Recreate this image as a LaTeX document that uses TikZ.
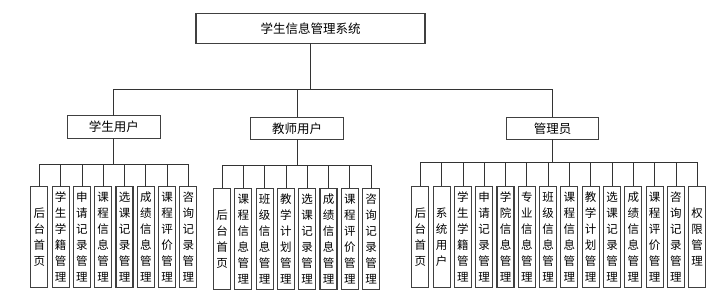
\documentclass[tikz,border=0pt]{standalone}
\usepackage{fontspec}
\setmainfont{Noto Sans CJK SC}
\usetikzlibrary{positioning}

\begin{document}
\begin{tikzpicture}[
    x=1pt, y=1pt,
    box/.style={draw=black!75, line width=1.1pt, inner sep=0pt, outer sep=0pt, align=center},
    topbox/.style={box, minimum width=229pt, minimum height=29.5pt, font=\fontsize{12.5}{14}\selectfont},
    userbox/.style={box, minimum width=92.5pt, minimum height=22.5pt, font=\fontsize{12.5}{14}\selectfont},
    leafbox/.style={box, minimum width=17pt, minimum height=101pt, font=\fontsize{11.5}{16}\selectfont},
    conn/.style={draw=black!80, line width=0.8pt}
]
\useasboundingbox (0,0) rectangle (712,-304);

\node[topbox] (sys) at (310.5,-28.7) {学生信息管理系统};

\node[userbox] (stu) at (113.8,-127) {学生用户};
\node[userbox] (tea) at (297,-128.5) {教师用户};
\node[userbox] (adm) at (552.5,-128.5) {管理员};

% student leaves
\node[leafbox] (s1) at (39.3,-237.1) {后\\台\\首\\页};
\node[leafbox, right=4.3pt of s1] (s2) {学\\生\\学\\籍\\管\\理};
\node[leafbox, right=4.3pt of s2] (s3) {申\\请\\记\\录\\管\\理};
\node[leafbox, right=4.3pt of s3] (s4) {课\\程\\信\\息\\管\\理};
\node[leafbox, right=4.3pt of s4] (s5) {选\\课\\记\\录\\管\\理};
\node[leafbox, right=4.3pt of s5] (s6) {成\\绩\\信\\息\\管\\理};
\node[leafbox, right=4.3pt of s6] (s7) {课\\程\\评\\价\\管\\理};
\node[leafbox, right=4.3pt of s7] (s8) {咨\\询\\记\\录\\管\\理};

% teacher leaves
\node[leafbox] (t1) at (222,-238.8) {后\\台\\首\\页};
\node[leafbox, right=4.3pt of t1] (t2) {课\\程\\信\\息\\管\\理};
\node[leafbox, right=4.3pt of t2] (t3) {班\\级\\信\\息\\管\\理};
\node[leafbox, right=4.3pt of t3] (t4) {教\\学\\计\\划\\管\\理};
\node[leafbox, right=4.3pt of t4] (t5) {选\\课\\记\\录\\管\\理};
\node[leafbox, right=4.3pt of t5] (t6) {成\\绩\\信\\息\\管\\理};
\node[leafbox, right=4.3pt of t6] (t7) {课\\程\\评\\价\\管\\理};
\node[leafbox, right=4.3pt of t7] (t8) {咨\\询\\记\\录\\管\\理};

% admin leaves
\node[leafbox] (a1) at (420.3,-237) {后\\台\\首\\页};
\node[leafbox, right=4.3pt of a1] (a2) {系\\统\\用\\户};
\node[leafbox, right=4.3pt of a2] (a3) {学\\生\\学\\籍\\管\\理};
\node[leafbox, right=4.3pt of a3] (a4) {申\\请\\记\\录\\管\\理};
\node[leafbox, right=4.3pt of a4] (a5) {学\\院\\信\\息\\管\\理};
\node[leafbox, right=4.3pt of a5] (a6) {专\\业\\信\\息\\管\\理};
\node[leafbox, right=4.3pt of a6] (a7) {班\\级\\信\\息\\管\\理};
\node[leafbox, right=4.3pt of a7] (a8) {课\\程\\信\\息\\管\\理};
\node[leafbox, right=4.3pt of a8] (a9) {教\\学\\计\\划\\管\\理};
\node[leafbox, right=4.3pt of a9] (a10) {选\\课\\记\\录\\管\\理};
\node[leafbox, right=4.3pt of a10] (a11) {成\\绩\\信\\息\\管\\理};
\node[leafbox, right=4.3pt of a11] (a12) {课\\程\\评\\价\\管\\理};
\node[leafbox, right=4.3pt of a12] (a13) {咨\\询\\记\\录\\管\\理};
\node[leafbox, right=4.3pt of a13] (a14) {权\\限\\管\\理};

\draw[conn] (sys.south) -- ++(0,-45.8) -| (stu.north);
\draw[conn] (sys.south) -- ++(0,-45.8) -| (tea.north);
\draw[conn] (sys.south) -- ++(0,-45.8) -| (adm.north);

\draw[conn] (stu.south) -- ++(0,-26.3) -| (s1.north);
\draw[conn] (stu.south) -- ++(0,-26.3) -| (s2.north);
\draw[conn] (stu.south) -- ++(0,-26.3) -| (s3.north);
\draw[conn] (stu.south) -- ++(0,-26.3) -| (s4.north);
\draw[conn] (stu.south) -- ++(0,-26.3) -| (s5.north);
\draw[conn] (stu.south) -- ++(0,-26.3) -| (s6.north);
\draw[conn] (stu.south) -- ++(0,-26.3) -| (s7.north);
\draw[conn] (stu.south) -- ++(0,-26.3) -| (s8.north);

\draw[conn] (tea.south) -- ++(0,-25.7) -| (t1.north);
\draw[conn] (tea.south) -- ++(0,-25.7) -| (t2.north);
\draw[conn] (tea.south) -- ++(0,-25.7) -| (t3.north);
\draw[conn] (tea.south) -- ++(0,-25.7) -| (t4.north);
\draw[conn] (tea.south) -- ++(0,-25.7) -| (t5.north);
\draw[conn] (tea.south) -- ++(0,-25.7) -| (t6.north);
\draw[conn] (tea.south) -- ++(0,-25.7) -| (t7.north);
\draw[conn] (tea.south) -- ++(0,-25.7) -| (t8.north);

\draw[conn] (adm.south) -- ++(0,-22.7) -| (a1.north);
\draw[conn] (adm.south) -- ++(0,-22.7) -| (a2.north);
\draw[conn] (adm.south) -- ++(0,-22.7) -| (a3.north);
\draw[conn] (adm.south) -- ++(0,-22.7) -| (a4.north);
\draw[conn] (adm.south) -- ++(0,-22.7) -| (a5.north);
\draw[conn] (adm.south) -- ++(0,-22.7) -| (a6.north);
\draw[conn] (adm.south) -- ++(0,-22.7) -| (a7.north);
\draw[conn] (adm.south) -- ++(0,-22.7) -| (a8.north);
\draw[conn] (adm.south) -- ++(0,-22.7) -| (a9.north);
\draw[conn] (adm.south) -- ++(0,-22.7) -| (a10.north);
\draw[conn] (adm.south) -- ++(0,-22.7) -| (a11.north);
\draw[conn] (adm.south) -- ++(0,-22.7) -| (a12.north);
\draw[conn] (adm.south) -- ++(0,-22.7) -| (a13.north);
\draw[conn] (adm.south) -- ++(0,-22.7) -| (a14.north);
\end{tikzpicture}
\end{document}
